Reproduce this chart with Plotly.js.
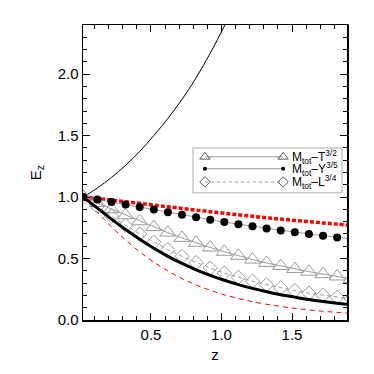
<!DOCTYPE html>
<html>
<head>
<meta charset="utf-8">
<script src="https://cdn.plot.ly/plotly-3.0.1.min.js"></script>
<style>
  html, body { margin: 0; padding: 0; background: #fff; }
  #plot { width: 374px; height: 374px; }
</style>
</head>
<body>
<div id="plot"></div>
<script>
// redshift grid of the sampled points
const z = [0.02, 0.12, 0.22, 0.32, 0.42, 0.52, 0.62, 0.72, 0.82, 0.92,
           1.02, 1.12, 1.22, 1.32, 1.42, 1.52, 1.62, 1.72, 1.82, 1.92];

// curves
const thinBlack = [1.00, 1.074, 1.160, 1.259, 1.371, 1.500, 1.640, 1.795, 1.970, 2.170,
                   2.390, 2.630, 2.890];
const thickBlack = [1.00, 0.910, 0.821, 0.736, 0.657, 0.584, 0.518, 0.460, 0.408, 0.363,
                    0.323, 0.288, 0.257, 0.230, 0.206, 0.186, 0.167, 0.151, 0.137, 0.125];
const redThick = [1.00, 0.988, 0.976, 0.962, 0.949, 0.935, 0.921, 0.908, 0.894, 0.881,
                  0.868, 0.856, 0.844, 0.832, 0.821, 0.810, 0.800, 0.790, 0.780, 0.771];
const redThin = [1.00, 0.876, 0.758, 0.651, 0.555, 0.471, 0.399, 0.337, 0.285, 0.242,
                 0.205, 0.175, 0.149, 0.128, 0.110, 0.095, 0.082, 0.071, 0.062, 0.054];

// the three scaling relations (markers)
const mT = [1.00, 0.952, 0.902, 0.852, 0.803, 0.756, 0.711, 0.668, 0.628, 0.590,
            0.555, 0.522, 0.492, 0.464, 0.439, 0.415, 0.393, 0.373, 0.354, 0.336];
const mY = [1.00, 0.981, 0.961, 0.940, 0.919, 0.898, 0.877, 0.856, 0.836, 0.816,
            0.797, 0.779, 0.762, 0.745, 0.729, 0.714, 0.700, 0.686, 0.672, 0.660];
const mL = [1.00, 0.923, 0.845, 0.770, 0.699, 0.633, 0.572, 0.517, 0.467, 0.422,
            0.382, 0.347, 0.315, 0.287, 0.261, 0.239, 0.219, 0.201, 0.185, 0.171];

const legendNames = ["M<sub>tot</sub>\u2013T<sup>3/2</sup>",
                     "M<sub>tot</sub>\u2013Y<sup>3/5</sup>",
                     "M<sub>tot</sub>\u2013L<sup>3/4</sup>"];

const gray = "#9a9a9a";
const font = "Liberation Sans, Arial, sans-serif";

const traces = [
  { x: z.slice(0, thinBlack.length), y: thinBlack, mode: "lines", line: { color: "#000", width: 1, shape: "spline" } },
  { x: z, y: redThin, mode: "lines", line: { color: "#ff0000", width: 1, dash: "5px,4px", shape: "spline" } },
  { x: z, y: mT, mode: "lines+markers", line: { color: gray, width: 1 },
    marker: { symbol: "triangle-up-open", size: 14, color: gray, line: { width: 1, color: gray } } },
  { x: z, y: mL, mode: "lines+markers", line: { color: gray, width: 1, dash: "4px,3px" },
    marker: { symbol: "diamond-open", size: 11, color: gray, line: { width: 1, color: gray } } },
  { x: z, y: thickBlack, mode: "lines", line: { color: "#000", width: 3, shape: "spline" } },
  { x: z, y: redThick, mode: "lines", line: { color: "#ff0000", width: 3.5, dash: "4px,2px", shape: "spline" } },
  { x: z, y: mY, mode: "lines+markers", line: { color: gray, width: 1 },
    marker: { symbol: "circle", size: 8, color: "#000" } },
];

// legend samples (IDL style: line with a symbol at both ends)
const legRows = [0.83, 0.53, 0.2];
const legStyles = [
  { line: { color: gray, width: 1 }, marker: { symbol: "triangle-up-open", size: 9, color: "#555", line: { width: 1, color: "#555" } } },
  { line: { color: gray, width: 1 }, marker: { symbol: "circle", size: 4, color: "#000" } },
  { line: { color: gray, width: 1, dash: "3px,3px" }, marker: { symbol: "diamond-open", size: 8, color: "#555", line: { width: 1, color: "#555" } } },
];
legStyles.forEach((s, i) => {
  traces.push(Object.assign({ x: [0, 1], y: [legRows[i], legRows[i]], mode: "lines+markers",
    xaxis: "x2", yaxis: "y2", cliponaxis: false }, s));
});

const annotations = legendNames.map((t, i) => ({
  xref: "paper", yref: "paper", x: 0.785, y: 0.5536 - [0, 0.0407, 0.0858][i],
  xanchor: "left", yanchor: "middle", text: t, showarrow: false,
  font: { family: font, size: 12, color: "#000" }
}));

const axisCommon = {
  showline: true, linecolor: "#000", linewidth: 1.5, mirror: "ticks",
  ticks: "inside", ticklen: 7, tickwidth: 1, tickcolor: "#000",
  showgrid: false, zeroline: false,
  tickfont: { family: font, size: 15, color: "#000" },
  minor: { ticks: "inside", ticklen: 4, tickwidth: 1, tickcolor: "#000", dtick: 0.1, showgrid: false },
};

const layout = {
  width: 374, height: 374,
  margin: { l: 83, r: 27, t: 25, b: 54 },
  paper_bgcolor: "#fff", plot_bgcolor: "#fff",
  showlegend: false,
  xaxis: Object.assign({}, axisCommon, {
    range: [0.018, 1.89], dtick: 0.5, tick0: 0, tickformat: ".1f",
    title: { text: "z", font: { family: font, size: 15, color: "#000" }, standoff: 8 },
  }),
  yaxis: Object.assign({}, axisCommon, {
    range: [0, 2.4], dtick: 0.5, tick0: 0, tickformat: ".1f",
    title: { text: "E<sub>z</sub>", font: { family: font, size: 15, color: "#000" }, standoff: 12 },
  }),
  xaxis2: { domain: [0.462, 0.758], range: [0, 1], visible: false, anchor: "y2" },
  yaxis2: { domain: [0.441, 0.576], range: [0, 1], visible: false, anchor: "x2" },
  shapes: [{
    type: "rect", xref: "paper", yref: "paper", x0: 0.417, x1: 0.981, y0: 0.431, y1: 0.583,
    line: { color: "#c8c8c8", width: 1.5 }, fillcolor: "rgba(0,0,0,0)"
  }],
  annotations,
};

Plotly.newPlot("plot", traces, layout, { staticPlot: true });
</script>
</body>
</html>
